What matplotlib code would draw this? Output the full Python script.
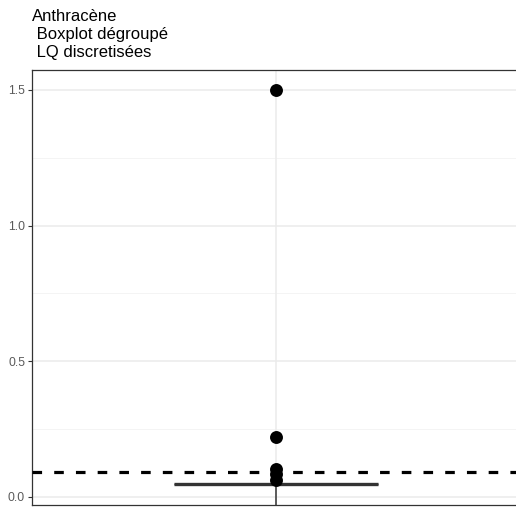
import matplotlib
matplotlib.use("Agg")
import matplotlib.pyplot as plt
import numpy as np

plt.rcParams['font.family'] = ['Liberation Sans', 'DejaVu Sans']

# Data
title_lines = ["Anthracène", " Boxplot dégroupé", " LQ discretisées"]
category_pos = [1.0]
outliers = [1.5, 0.22, 0.105, 0.085, 0.063]
box_q1 = [0.048]
box_median = [0.048]
box_q3 = [0.048]
whisker_low = [-0.05]
whisker_high = [0.048]
lq_value = 0.092
y_ticks = [0.0, 0.5, 1.0, 1.5]
y_minor = [0.25, 0.75, 1.25]

W, H = 516, 507
fig = plt.figure(figsize=(W / 100, H / 100), dpi=100)
left_px, right_px, top_px, bottom_px = 32, 520, 70, 505
ax = fig.add_axes([left_px / W, (H - bottom_px) / H,
                   (right_px - left_px) / W, (bottom_px - top_px) / H])

ymax = 1.5737
ymin = -0.0295
ax.set_ylim(ymin, ymax)
ax.set_xlim(0.4, 1.6)

# grid
for y in y_ticks:
    ax.axhline(y, color='#ebebeb', lw=1.1, zorder=0)
for y in y_minor:
    ax.axhline(y, color='#f2f2f2', lw=0.6, zorder=0)
for x in category_pos:
    ax.axvline(x, color='#ebebeb', lw=1.1, zorder=0)

bw = 0.5
for i, x in enumerate(category_pos):
    # whiskers
    ax.plot([x, x], [whisker_low[i], box_q1[i]], color='#333333', lw=1.1, zorder=2)
    ax.plot([x, x], [box_q3[i], whisker_high[i]], color='#333333', lw=1.1, zorder=2)
    # box
    ax.add_patch(plt.Rectangle((x - bw / 2, box_q1[i]), bw, box_q3[i] - box_q1[i],
                               fill=False, edgecolor='#333333', lw=1.0, zorder=2))
    ax.plot([x - bw / 2, x + bw / 2], [box_median[i]] * 2, color='#333333',
            lw=2.4, solid_capstyle='butt', zorder=2)
    ax.plot([x] * len(outliers), outliers, 'o', color='black', ms=9.3,
            markeredgewidth=0, zorder=3)

ax.axhline(lq_value, color='black', lw=2.3, ls=(0, (3, 3.8)), zorder=4)

ax.set_yticks(y_ticks)
ax.set_yticklabels(['0.0', '0.5', '1.0', '1.5'])
ax.set_xticks([])
ax.tick_params(axis='y', length=3, width=0.8, color='#333333', labelsize=8.8,
               labelcolor='#5a5a5a', pad=2)
for s in ax.spines.values():
    s.set_color('#333333')
    s.set_linewidth(0.9)

fig.text(32 / W, 1 - 9 / H, "\n".join(title_lines), ha='left', va='top',
         fontsize=12, color='black', linespacing=1.25)

fig.savefig('out.png', dpi=100)
